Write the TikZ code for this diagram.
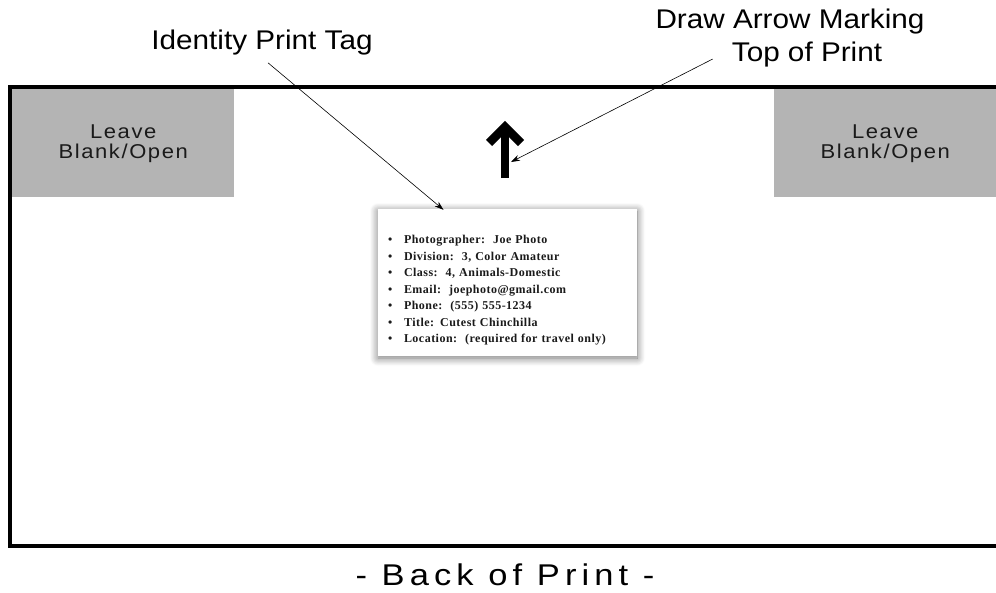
\documentclass[tikz,border=0pt]{standalone}
\usepackage{fontspec}
\usetikzlibrary{arrows.meta,shadows.blur}
\setmainfont{Liberation Sans}
\newfontfamily\calloutfont[FakeStretch=1.1]{Liberation Sans}
\newfontfamily\blankfont[FakeStretch=1.1,LetterSpace=8]{Liberation Sans}
\newfontfamily\footerfont[FakeStretch=1.15,LetterSpace=17]{Liberation Sans}
\newfontfamily\tagfont[LetterSpace=4]{Liberation Serif}
\newcommand{\tagbullet}{\makebox[16pt][l]{\textbullet}}
\begin{document}
\begin{tikzpicture}[x=1pt,y=-1pt,
  callout/.style={inner sep=0, anchor=base, text=custcol_0_0_0, font=\calloutfont\fontsize{27pt}{27pt}\selectfont},
  blankbox/.style={fill=custcol_b4_b4_b4, minimum width=222pt, minimum height=108pt, inner sep=0, anchor=north west, align=center, text=custcol_1a_1a_1a, font=\blankfont\fontsize{20pt}{20pt}\selectfont},
  card/.style={fill=white, minimum width=259pt, minimum height=147pt, text width=239pt, inner xsep=10pt, align=left, text=custcol_1a_1a_1a, font=\tagfont\bfseries\fontsize{12pt}{16.5pt}\selectfont, blur shadow={shadow xshift=0pt, shadow yshift=-2pt, shadow blur radius=8pt, shadow blur steps=10, shadow opacity=55}},
  leader/.style={line width=0.6pt, custcol_0_0_0, -{Stealth[length=9pt,width=6pt]}},
  bigarrow/.style={line width=8.5pt, custcol_0_0_0, miter limit=10}]
\useasboundingbox (0,0) rectangle (996,592);
\definecolor{custcol_0_0_0}{RGB}{0, 0, 0}
\definecolor{custcol_1a_1a_1a}{RGB}{26, 26, 26}
\definecolor{custcol_b4_b4_b4}{RGB}{180, 180, 180}
% frame of the print, open on the right
\draw [line width=3.5pt, custcol_0_0_0 ] (1000,87) -- (10,87) -- (10,546) -- (1000,546) ;
% corners to keep free
\node[blankbox] (blankleft) at (12,89) {Leave\\Blank/Open};
\node[blankbox] (blankright) at (774,89) {Leave\\Blank/Open};
% identity tag
\node[card] (tag) at (507.5,282.5) {\rule{0pt}{24pt}\tagbullet Photographer:\ \ Joe Photo\\
\tagbullet Division:\ \ 3, Color Amateur\\
\tagbullet Class:\ \ 4, Animals-Domestic\\
\tagbullet Email:\ \ joephoto@gmail.com\\
\tagbullet Phone:\ \ (555) 555-1234\\
\tagbullet Title: Cutest Chinchilla\\
\tagbullet Location:\ \ (required for travel only)};
% arrow for the top
\coordinate (arrowfoot) at (505,178);
\draw [bigarrow] (arrowfoot) -- ([shift={(0,-48)}]arrowfoot) ;
\draw [bigarrow] ([shift={(-16,-35)}]arrowfoot) -- ([shift={(0,-51)}]arrowfoot) -- ([shift={(16,-35)}]arrowfoot) ;
% labels
\node[callout] (idlabel) at (262,49) {Identity Print Tag};
\node[callout] (marklabel) at (790,28) {Draw Arrow Marking};
\node[callout] (toplabel) at (807,61) {Top of Print};
\node[callout, font=\footerfont\fontsize{30pt}{30pt}\selectfont] (backlabel) at (505,585) {- Back of Print -};
\draw [leader] ([shift={(6,8)}]idlabel.south) -- ([shift={(-64,1)}]tag.north) ;
\draw [leader] ([shift={(-19,5)}]toplabel.west) -- ([shift={(6,-16)}]arrowfoot) ;
\end{tikzpicture}
\end{document}
